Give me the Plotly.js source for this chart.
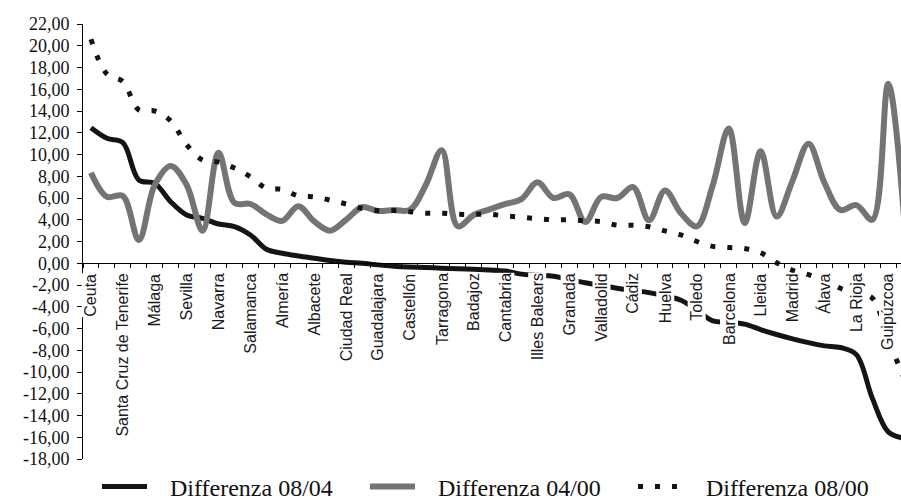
<!DOCTYPE html>
<html><head><meta charset="utf-8">
<script src="https://cdn.plot.ly/plotly-3.0.1.min.js"></script>
<style>html,body{margin:0;padding:0;background:#fff;overflow:hidden}</style>
</head><body><div id="chart" style="width:901px;height:502px"></div>
<script>
// Labels shown on the axis (every other province in the ranking)
const xLabels = ['Ceuta','Santa Cruz de Tenerife','Málaga','Sevilla','Navarra','Salamanca','Almería','Albacete',
  'Ciudad Real','Guadalajara','Castellón','Tarragona','Badajoz','Cantabria','Illes Balears','Granada',
  'Valladolid','Cádiz','Huelva','Toledo','Barcelona','Lleida','Madrid','Álava','La Rioja','Guipúzcoa'];

// Differenza 08/04
const diff0804 = [12.46, 11.49, 11.09, 7.66, 7.35, 5.66, 4.44, 4.13, 3.61, 3.37,
  2.6, 1.29, 0.92, 0.67, 0.46, 0.25, 0.09, 0.0, -0.15, -0.27,
  -0.35, -0.4, -0.45, -0.5, -0.55, -0.62, -0.72, -1.0, -1.1, -1.2,
  -1.5, -1.8, -2.05, -2.3, -2.5, -2.7, -3.0, -3.4, -4.3, -5.3,
  -5.4, -5.6, -6.1, -6.55, -6.95, -7.3, -7.6, -7.75, -8.4, -12.4,
  -15.5, -16.1];

// Differenza 04/00
const diff0400 = [8.33, 6.12, 6.19, 2.14, 7.2, 8.94, 7.2, 3.0, 10.17, 5.55,
  5.45, 4.5, 3.9, 5.25, 3.85, 3.0, 4.0, 5.15, 4.8, 4.9,
  4.9, 7.2, 10.4, 3.4, 4.44, 4.96, 5.45, 5.9, 7.45, 6.0,
  6.35, 3.8, 6.1, 6.0, 7.0, 3.95, 6.7, 4.6, 3.4, 7.2,
  12.4, 3.7, 10.3, 4.3, 7.6, 11.0, 7.4, 4.9, 5.35, 4.0,
  16.5, 4.0];

// Differenza 08/00
const diff0800 = [20.6, 17.4, 16.7, 14.1, 14.0, 13.1, 10.9, 9.5, 9.3, 8.75,
  7.95, 6.9, 6.8, 6.2, 6.1, 5.8, 5.45, 5.05, 4.84, 4.84,
  4.74, 4.6, 4.6, 4.5, 4.5, 4.5, 4.35, 4.23, 4.1, 4.0,
  4.0, 3.9, 3.83, 3.5, 3.5, 3.35, 2.97, 2.6, 2.0, 1.55,
  1.45, 1.35, 0.97, 0.05, -0.65, -1.05, -1.6, -2.3, -2.75, -3.2,
  -7.0, -10.6];

const yTickVals = [-18, -16, -14, -12, -10, -8, -6, -4, -2, 0, 2, 4, 6, 8, 10, 12, 14, 16, 18, 20, 22];

const seriesNames = ['Differenza 08/04', 'Differenza 04/00', 'Differenza 08/00'];

const idx = diff0804.map((_, i) => i);
const labelIdx = xLabels.map((_, k) => 2 * k);
const yTickText = yTickVals.map(v => v.toFixed(2).replace('.', ','));
const legendPad = '\u00a0\u00a0\u00a0';  // gap between legend key and its text, as in the original

const traces = [
  {x: idx, y: diff0804, name: legendPad + seriesNames[0], type: 'scatter', mode: 'lines',
   line: {color: '#141414', width: 5, shape: 'spline', smoothing: 1}},
  {x: idx, y: diff0400, name: legendPad + seriesNames[1], type: 'scatter', mode: 'lines',
   line: {color: '#747474', width: 6, shape: 'spline', smoothing: 1}},
  {x: idx, y: diff0800, name: legendPad + seriesNames[2], type: 'scatter', mode: 'lines',
   line: {color: '#141414', width: 5, shape: 'spline', smoothing: 1, dash: '5px,12px'}}
];

// Category labels drawn on an opaque white box (as in the original), placed on the x scale
const labelFont = {family: 'Liberation Sans, Arial, sans-serif', size: 16, color: '#1a1a1a'};
const annotations = xLabels.map((t, k) => ({
  x: labelIdx[k], y: 0, xref: 'x', yref: 'y', text: t, showarrow: false,
  textangle: -90, xanchor: 'center', yanchor: 'top', yshift: -9,
  bgcolor: '#ffffff', borderpad: 0, font: labelFont
}));

const layout = {
  width: 901, height: 502,
  margin: {l: 83, r: 0, t: 24, b: 43, pad: 0},
  paper_bgcolor: '#ffffff', plot_bgcolor: '#ffffff',
  showlegend: true,
  annotations: annotations,
  xaxis: {
    range: [-0.5, 50.8], showgrid: false, zeroline: false,
    showline: true, linecolor: '#000', linewidth: 1,
    anchor: 'free', position: 0.45,
    tickmode: 'array', tickvals: labelIdx, ticktext: xLabels, ticks: '',
    showticklabels: false,
    minor: {tickmode: 'linear', tick0: -0.5, dtick: 1, ticks: 'outside', ticklen: 4,
            tickcolor: '#000', tickwidth: 1, showgrid: false},
    automargin: false, fixedrange: true
  },
  yaxis: {
    range: [-18, 22], tickmode: 'array', tickvals: yTickVals, ticktext: yTickText,
    ticks: 'outside', ticklen: 5, tickcolor: '#000', tickwidth: 1,
    showline: true, linecolor: '#000', linewidth: 1, ticklabelstandoff: 4,
    showgrid: false, zeroline: false, automargin: false, fixedrange: true,
    tickfont: {family: 'Liberation Serif, Times New Roman, serif', size: 18, color: '#111'}
  },
  legend: {
    orientation: 'h', xref: 'paper', yref: 'container',
    x: 0.026, y: 0.03, xanchor: 'left', yanchor: 'middle',
    font: {family: 'Liberation Serif, Times New Roman, serif', size: 24, color: '#111'},
    entrywidth: 208, entrywidthmode: 'pixels', itemwidth: 45,
    bgcolor: 'rgba(0,0,0,0)', borderwidth: 0
  }
};

Plotly.newPlot('chart', traces, layout, {displayModeBar: false, staticPlot: true});
</script></body></html>
